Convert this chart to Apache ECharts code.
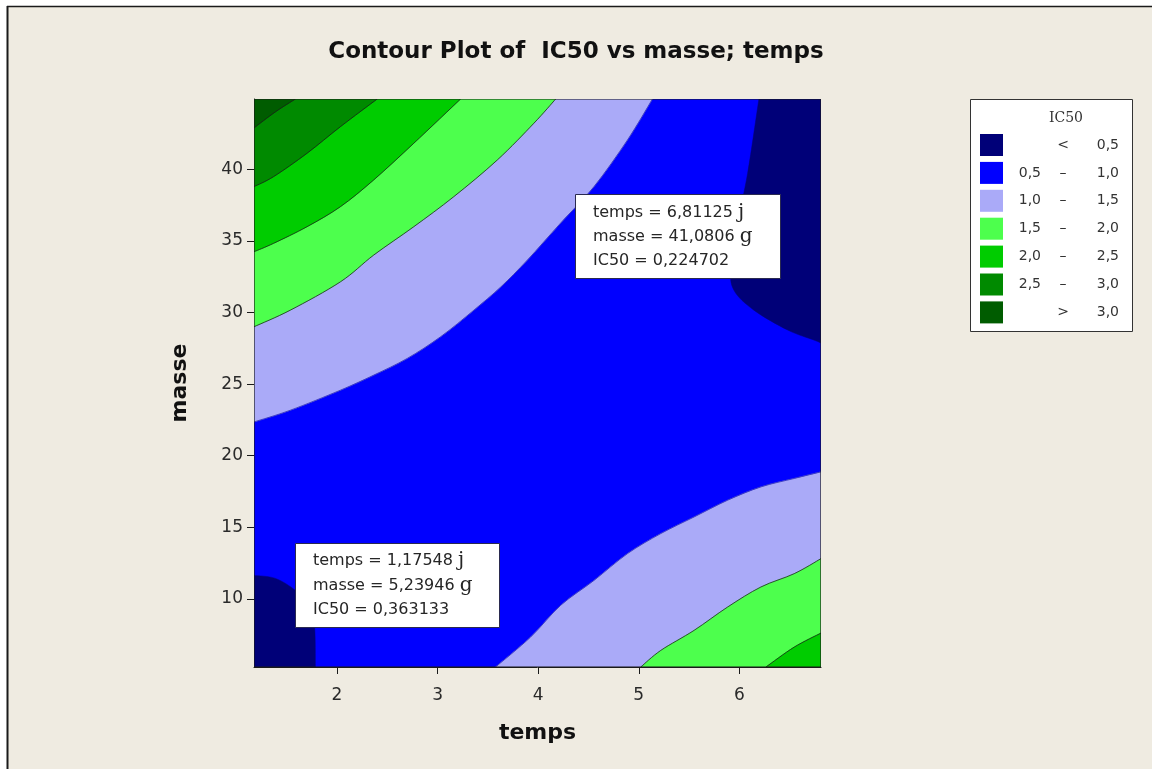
<!DOCTYPE html>
<html><head><meta charset="utf-8">
<script src="https://cdn.jsdelivr.net/npm/echarts@6/dist/echarts.min.js"></script>
<style>html,body{margin:0;padding:0;background:#fff}#c{width:1152px;height:769px}</style>
</head><body><div id="c"></div>
<script>
// ---- axes ----
const tempsRange = [1.17548, 6.81125];
const masseRange = [5.23946, 44.92];
const tempsTicks = [2, 3, 4, 5, 6];
const masseTicks = [10, 15, 20, 25, 30, 35, 40];

// ---- contour levels ----
const levelLow  = ['', '0,5', '1,0', '1,5', '2,0', '2,5', ''];
const levelSym  = ['<', '–', '–', '–', '–', '–', '>'];
const levelHigh = ['0,5', '1,0', '1,5', '2,0', '2,5', '3,0', '3,0'];
const levelColors = ['#000078', '#0000FF', '#AAAAF8', '#4DFF4D', '#00CC00', '#008A00', '#005C00'];

// ---- contour lines [temps, masse] ----
const c05UpperRight = [[6.194,44.92],[6.082,39.73],[5.982,36.24],[5.916,33.20],[5.945,31.57],[6.144,30.17],[6.480,28.78],[6.741,28.08],[6.81125,27.87]];
const c05LowerLeft  = [[1.17548,11.64],[1.388,11.43],[1.587,10.59],[1.716,9.55],[1.776,8.15],[1.786,5.23946]];
const c10Upper = [[5.136,44.92],[4.888,42.06],[4.555,38.80],[4.224,36.26],[3.893,33.67],[3.627,31.78],[3.361,30.17],[3.030,28.31],[2.699,26.80],[2.366,25.63],[2.035,24.58],[1.537,23.18],[1.17548,22.36]];
const c10Lower = [[3.577,5.23946],[3.925,7.33],[4.224,9.55],[4.555,11.29],[4.888,13.16],[5.219,14.56],[5.550,15.72],[5.883,16.89],[6.214,17.82],[6.545,18.41],[6.81125,18.87]];
const c15Upper = [[4.174,44.92],[3.958,43.23],[3.594,40.66],[3.162,38.10],[2.764,36.0],[2.366,34.02],[2.035,32.15],[1.537,30.17],[1.17548,29.01]];
const c15Lower = [[5.020,5.23946],[5.219,6.40],[5.550,7.80],[5.883,9.43],[6.214,10.83],[6.545,11.76],[6.81125,12.81]];
const c20Upper = [[3.229,44.92],[2.764,41.83],[2.366,39.27],[2.035,37.40],[1.703,36.0],[1.371,34.84],[1.17548,34.25]];
const c20Lower = [[6.264,5.23946],[6.545,6.63],[6.81125,7.61]];
const c25Upper = [[2.40,44.92],[2.035,42.99],[1.703,41.13],[1.371,39.50],[1.17548,38.80]];
const c30Upper = [[1.587,44.92],[1.388,44.02],[1.17548,42.90]];

// ---- annotations ----
const flagTop = ['temps = 6,81125 ', 'masse = 41,0806 ', 'IC50 = 0,224702'];
const flagBottom = ['temps = 1,17548 ', 'masse = 5,23946 ', 'IC50 = 0,363133'];
const flagUnits = ['j', 'g', ''];

// ---- build drawing list ----
const X0 = tempsRange[0], X1 = tempsRange[1], Y0 = masseRange[0], Y1 = masseRange[1];
const corner = { tl: [X0, Y1], tr: [X1, Y1], bl: [X0, Y0], br: [X1, Y0] };
const items = [
  { line: null, rect: true, level: 1 },
  { line: c10Upper, c: corner.tl, level: 2, lc: '#2a2ab0' },
  { line: c15Upper, c: corner.tl, level: 3, lc: '#1a1a1a' },
  { line: c20Upper, c: corner.tl, level: 4, lc: '#1a1a1a' },
  { line: c25Upper, c: corner.tl, level: 5, lc: '#1a1a1a' },
  { line: c30Upper, c: corner.tl, level: 6, lc: '#1a1a1a' },
  { line: c05UpperRight, c: corner.tr, level: 0, lc: null },
  { line: c05LowerLeft, c: corner.bl, level: 0, lc: null },
  { line: c10Lower, c: corner.br, level: 2, lc: '#2a2ab0' },
  { line: c15Lower, c: corner.br, level: 3, lc: '#1a1a1a' },
  { line: c20Lower, c: corner.br, level: 4, lc: '#1a1a1a' },
  { frame: true }
];

// smooth (Catmull-Rom) path through pixel points
function smoothPath(p) {
  let d = 'M' + p[0][0] + ' ' + p[0][1];
  for (let i = 0; i < p.length - 1; i++) {
    const p0 = p[i - 1] || p[i], p1 = p[i], p2 = p[i + 1], p3 = p[i + 2] || p[i + 1];
    const c1 = [p1[0] + (p2[0] - p0[0]) / 6, p1[1] + (p2[1] - p0[1]) / 6];
    const c2 = [p2[0] - (p3[0] - p1[0]) / 6, p2[1] - (p3[1] - p1[1]) / 6];
    d += ' C' + c1[0] + ' ' + c1[1] + ' ' + c2[0] + ' ' + c2[1] + ' ' + p2[0] + ' ' + p2[1];
  }
  return d;
}

function renderItem(params, api) {
  const it = items[api.value(2)];
  const rectPts = [corner.bl, corner.br, corner.tr, corner.tl].map(p => api.coord(p));
  if (it.frame) {
    return { type: 'polygon', shape: { points: rectPts }, style: { fill: null, stroke: '#1a1a1a', lineWidth: 1.2 } };
  }
  if (it.rect) {
    return { type: 'polygon', shape: { points: rectPts }, style: { fill: levelColors[it.level] } };
  }
  const px = it.line.map(p => api.coord(p));
  const cp = api.coord(it.c);
  const curve = smoothPath(px);
  const children = [{ type: 'path', shape: { pathData: curve + ' L' + cp[0] + ' ' + cp[1] + ' Z' },
    style: { fill: levelColors[it.level], stroke: levelColors[it.level], lineWidth: 0.5 } }];
  if (it.lc) {
    children.push({ type: 'path', shape: { pathData: curve }, style: { fill: null, stroke: it.lc, lineWidth: 1, opacity: 0.75 } });
  }
  return { type: 'group', children: children };
}

const FONT = 'DejaVu Sans, Verdana, sans-serif';
const graphics = [
  { type: 'rect', z: 100, shape: { x: 0, y: 0, width: 1152, height: 6 }, style: { fill: '#ffffff' }, silent: true },
  { type: 'rect', z: 100, shape: { x: 0, y: 0, width: 7, height: 769 }, style: { fill: '#ffffff' }, silent: true },
  { type: 'line', z: 100, shape: { x1: 7, y1: 6.5, x2: 1152, y2: 6.5 }, style: { stroke: '#1a1a1a', lineWidth: 1.5 }, silent: true },
  { type: 'line', z: 100, shape: { x1: 7.5, y1: 6, x2: 7.5, y2: 769 }, style: { stroke: '#1a1a1a', lineWidth: 2 }, silent: true },
  { type: 'rect', z: 100, shape: { x: 970.5, y: 99.5, width: 162, height: 232 }, style: { fill: '#ffffff', stroke: '#333333', lineWidth: 1 }, silent: true },
  { type: 'text', z: 101, x: 1066, y: 118, style: { text: 'IC50', fill: '#333', font: '14px DejaVu Serif, serif', textAlign: 'center', textVerticalAlign: 'middle' }, silent: true }
];
levelColors.forEach((c, i) => {
  const cy = 145 + i * 27.9;
  graphics.push({ type: 'rect', z: 101, shape: { x: 980, y: cy - 11, width: 23, height: 22 }, style: { fill: c }, silent: true });
  if (levelLow[i]) graphics.push({ type: 'text', z: 101, x: 1041, y: cy, style: { text: levelLow[i], fill: '#333', font: '14px ' + FONT, textAlign: 'right', textVerticalAlign: 'middle' }, silent: true });
  graphics.push({ type: 'text', z: 101, x: 1063, y: cy, style: { text: levelSym[i], fill: '#333', font: '14px ' + FONT, textAlign: 'center', textVerticalAlign: 'middle' }, silent: true });
  graphics.push({ type: 'text', z: 101, x: 1119, y: cy, style: { text: levelHigh[i], fill: '#333', font: '14px ' + FONT, textAlign: 'right', textVerticalAlign: 'middle' }, silent: true });
});
function flag(x, y, w, h, lines, ys) {
  graphics.push({ type: 'rect', z: 100, shape: { x: x + 0.5, y: y + 0.5, width: w, height: h }, style: { fill: '#ffffff', stroke: '#2a2a50', lineWidth: 1 }, silent: true });
  lines.forEach((t, i) => {
    graphics.push({ type: 'text', z: 101, x: x + 18, y: ys[i], silent: true,
      style: { text: t + (flagUnits[i] ? '{u|' + flagUnits[i] + '}' : ''), fill: '#262626', font: '16px ' + FONT, textVerticalAlign: 'middle',
        rich: { u: { fontSize: 20, fontFamily: 'DejaVu Serif', fill: '#262626' } } } });
  });
}
flag(575, 194, 205, 84, flagTop, [213, 237, 261]);
flag(295, 543, 204, 84, flagBottom, [561, 586, 610]);

const chart = echarts.init(document.getElementById('c'), null, { renderer: 'canvas' });
chart.setOption({
  backgroundColor: '#EFEBE1',
  animation: false,
  title: { text: 'Contour Plot of  IC50 vs masse; temps', left: 'center', top: 36,
    textStyle: { fontSize: 23, fontWeight: 'bold', color: '#111', fontFamily: FONT } },
  grid: { left: 254, top: 99, width: 567, height: 568 },
  xAxis: {
    type: 'value', min: X0, max: X1,
    axisLine: { show: true, onZero: false, lineStyle: { color: '#1a1a1a', width: 1 } },
    axisTick: { show: true, length: 7, customValues: tempsTicks, lineStyle: { color: '#1a1a1a' } },
    axisLabel: { customValues: tempsTicks, fontSize: 17, color: '#2a2a2a', margin: 20, fontFamily: FONT, formatter: v => String(v) },
    splitLine: { show: false },
    name: 'temps', nameLocation: 'middle', nameGap: 55,
    nameTextStyle: { fontSize: 22, fontWeight: 'bold', color: '#111', fontFamily: FONT }
  },
  yAxis: {
    type: 'value', min: Y0, max: Y1,
    axisLine: { show: true, onZero: false, lineStyle: { color: '#1a1a1a', width: 1 } },
    axisTick: { show: true, length: 7, customValues: masseTicks, lineStyle: { color: '#1a1a1a' } },
    axisLabel: { customValues: masseTicks, fontSize: 17, color: '#2a2a2a', margin: 11, fontFamily: FONT, formatter: v => String(v) },
    splitLine: { show: false },
    name: 'masse', nameLocation: 'middle', nameGap: 63,
    nameTextStyle: { fontSize: 22, fontWeight: 'bold', color: '#111', fontFamily: FONT }
  },
  series: [{
    type: 'custom', silent: true, clip: true,
    renderItem: renderItem,
    encode: { x: 0, y: 1 },
    data: items.map((_, i) => [X0, Y0, i])
  }],
  graphic: { elements: graphics }
});
</script></body></html>
